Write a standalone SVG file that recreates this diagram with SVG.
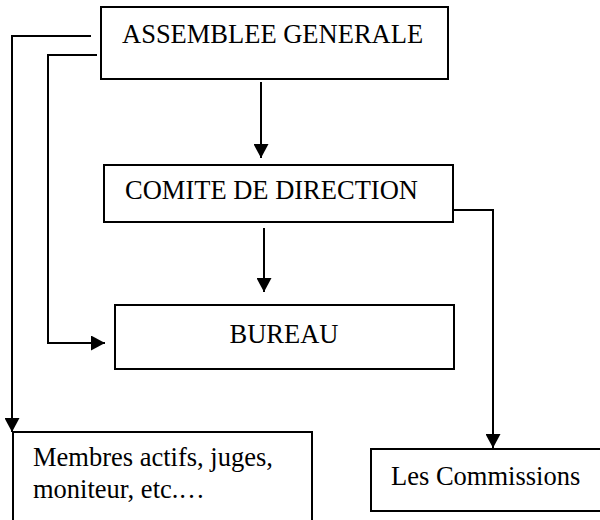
<svg xmlns="http://www.w3.org/2000/svg" width="600" height="520" viewBox="0 0 600 520">
<style>
.box{fill:#fff;stroke:#000;stroke-width:2}
.lbl{font-family:"Liberation Serif","Times New Roman",serif;font-size:26.5px;fill:#000}
.conn{fill:none;stroke:#000;stroke-width:2}
</style>
<defs>
<marker id="arr" markerUnits="userSpaceOnUse" markerWidth="14" markerHeight="15" viewBox="0 0 14 15" refX="14" refY="7.5" orient="auto">
<path d="M0 0 L14 7.5 L0 15 Z" fill="#000"/>
</marker>
</defs>
<rect width="600" height="520" fill="#fff"/>
<g id="connectors">
<path class="conn" d="M91 36 H12 V432" marker-end="url(#arr)"/>
<path class="conn" d="M97 55 H48 V343 H105" marker-end="url(#arr)"/>
<path class="conn" d="M261 82 V158" marker-end="url(#arr)"/>
<path class="conn" d="M264 228 V292" marker-end="url(#arr)"/>
<path class="conn" d="M451 210 H493 V448" marker-end="url(#arr)"/>
</g>
<g id="assemblee">
<rect class="box" x="101" y="7" width="347" height="72"/>
<text class="lbl" x="122" y="43">ASSEMBLEE GENERALE</text>
</g>
<g id="comite">
<rect class="box" x="104" y="165" width="349" height="57"/>
<text class="lbl" x="125" y="199">COMITE DE DIRECTION</text>
</g>
<g id="bureau">
<rect class="box" x="115" y="305" width="339" height="64"/>
<text class="lbl" x="284" y="343" text-anchor="middle">BUREAU</text>
</g>
<g id="membres">
<rect class="box" x="13" y="432" width="299" height="100"/>
<text class="lbl" x="33" y="466">Membres actifs, juges,</text>
<text class="lbl" x="33" y="498">moniteur, etc.…</text>
</g>
<g id="commissions">
<rect class="box" x="371" y="449" width="240" height="62"/>
<text class="lbl" x="391" y="485">Les Commissions</text>
</g>
</svg>
